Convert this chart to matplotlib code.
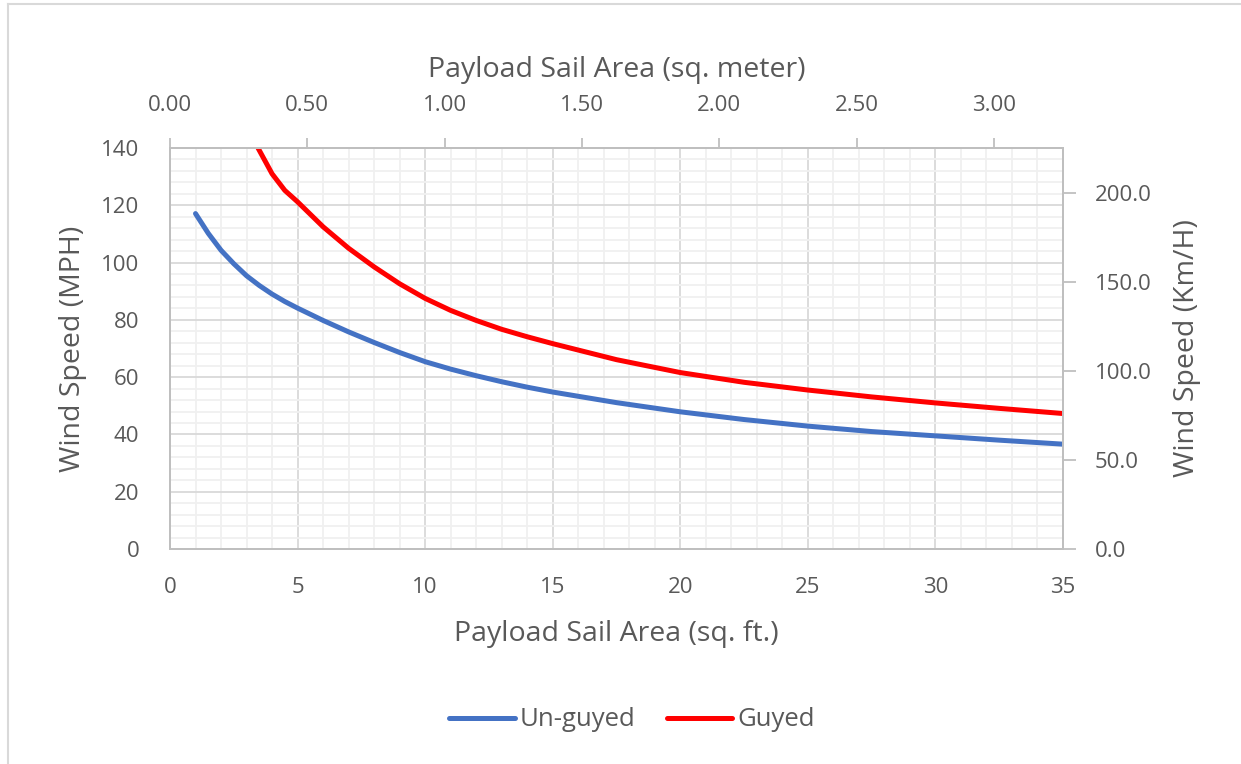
# Wind speed limit vs payload sail area, un-guyed vs guyed mast

import matplotlib.pyplot as plt
from matplotlib.lines import Line2D
from matplotlib.ticker import MultipleLocator, FormatStrFormatter

SQFT_TO_SQM = 0.092903
MPH_TO_KMH = 1.609344

unguyed_area = [1, 1.5, 2, 2.5, 3, 3.5, 4, 4.5, 5, 6, 7, 8, 9, 10, 11, 12, 13, 14,
                15, 17.5, 20, 22.5, 25, 27.5, 30, 32.5, 35]
unguyed_speed = [117.1, 110.2, 104.3, 99.6, 95.4, 92.0, 89.0, 86.4, 84.1, 79.8,
                 75.8, 72.1, 68.6, 65.4, 62.8, 60.5, 58.4, 56.5, 54.8, 51.1,
                 47.9, 45.2, 42.9, 41.0, 39.5, 38.0, 36.6]

guyed_area = [3.45, 4, 4.5, 5, 6, 7, 8, 9, 10, 11, 12, 13, 14, 15, 17.5, 20,
              22.5, 25, 27.5, 30, 32.5, 35]
guyed_speed = [140.0, 131.0, 125.2, 121.2, 112.5, 105.0, 98.5, 92.6, 87.5,
               83.3, 79.8, 76.7, 74.1, 71.7, 66.1, 61.6, 58.2, 55.5, 53.1,
               51.0, 49.1, 47.3]

text_col = '#595959'
plt.rcParams['font.family'] = ['Open Sans', 'DejaVu Sans']
plt.rcParams['text.color'] = text_col

fig = plt.figure(figsize=(12.41, 7.64), dpi=100)
ax = fig.add_axes([170 / 1241, 1 - 549 / 764, 893 / 1241, 401 / 764])

ax.plot(unguyed_area, unguyed_speed, color='#4472C4', lw=3.6,
        solid_capstyle='round', solid_joinstyle='round', label='Un-guyed', zorder=3)
ax.plot(guyed_area, guyed_speed, color='#FF0000', lw=3.6,
        solid_capstyle='round', solid_joinstyle='round', label='Guyed', zorder=3)

ax.set_xlim(0, 35)
ax.set_ylim(0, 140)
ax.xaxis.set_major_locator(MultipleLocator(5))
ax.xaxis.set_minor_locator(MultipleLocator(1))
ax.yaxis.set_major_locator(MultipleLocator(20))
ax.yaxis.set_minor_locator(MultipleLocator(4))
ax.grid(which='major', color='#d9d9d9', lw=1.3)
ax.grid(which='minor', color='#f0f0f0', lw=1.3)
ax.set_axisbelow(True)
ax.tick_params(which='both', length=0, labelsize=16, labelcolor=text_col)
ax.tick_params(axis='y', pad=22)
ax.tick_params(axis='x', pad=20)
ax.set_xlabel('Payload Sail Area (sq. ft.)', fontsize=20.5, color=text_col, labelpad=16)
ax.set_ylabel('Wind Speed (MPH)', fontsize=20.5, color=text_col, labelpad=10)
for s in ax.spines.values():
    s.set_color('#bfbfbf')
    s.set_linewidth(1.3)

# top axis in square meters
axt = ax.twiny()
axt.set_xlim(0, 35 * SQFT_TO_SQM)
axt.xaxis.set_major_locator(MultipleLocator(0.5))
axt.xaxis.set_major_formatter(FormatStrFormatter('%.2f'))
axt.tick_params(axis='x', length=7, width=1.3, color='#bfbfbf', pad=16,
                labelsize=16, labelcolor=text_col)
axt.set_xlabel('Payload Sail Area (sq. meter)', fontsize=20.5, color=text_col, labelpad=13)

# right axis in km/h
axr = ax.twinx()
axr.set_ylim(0, 140 * MPH_TO_KMH)
axr.yaxis.set_major_locator(MultipleLocator(50))
axr.yaxis.set_major_formatter(FormatStrFormatter('%.1f'))
axr.tick_params(axis='y', length=9, width=1.3, color='#bfbfbf', pad=14,
                labelsize=16, labelcolor=text_col)
axr.set_ylabel('Wind Speed (Km/H)', fontsize=20.5, color=text_col, labelpad=15)
for a in (axt, axr):
    for s in a.spines.values():
        s.set_color('#bfbfbf')
        s.set_linewidth(1.3)

h, l = ax.get_legend_handles_labels()
fig.legend(h, l, loc='center', bbox_to_anchor=(632 / 1241, 1 - 720 / 764),
           ncol=2, frameon=False, fontsize=18.5, handlelength=2.55,
           columnspacing=1.2, handletextpad=0.2)

# chart border (left and top edges visible)
fig.add_artist(Line2D([8 / 1241, 8 / 1241], [0, 1 - 4 / 764],
                      transform=fig.transFigure, color='#d9d9d9', lw=1.5))
fig.add_artist(Line2D([8 / 1241, 1], [1 - 4 / 764, 1 - 4 / 764],
                      transform=fig.transFigure, color='#d9d9d9', lw=1.5))

fig.savefig('out.png', dpi=100)
